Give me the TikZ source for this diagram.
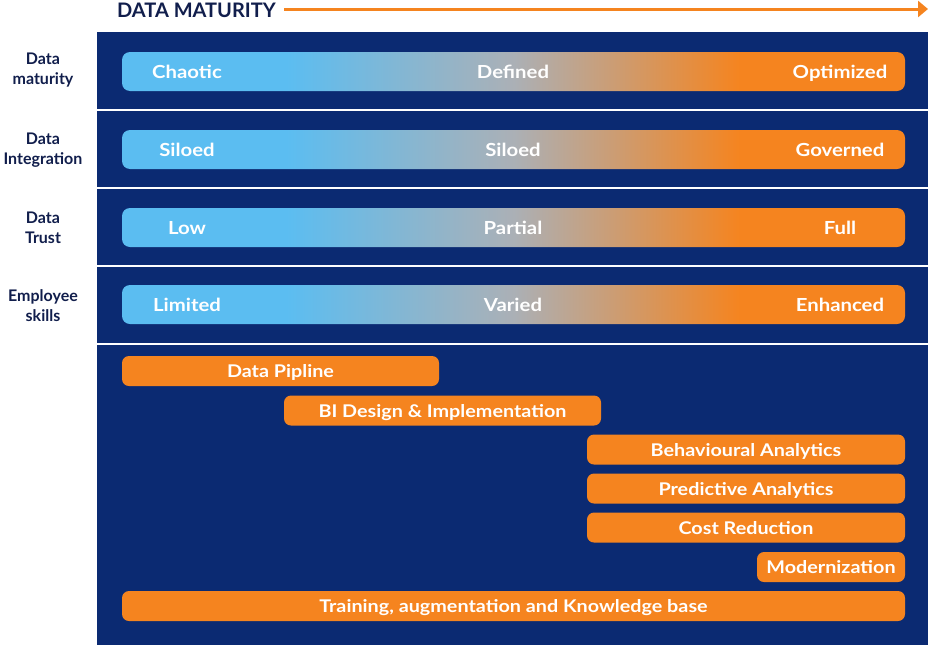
\documentclass[tikz,border=0pt]{standalone}
\usepackage{fontspec}
\setmainfont{Lato}
\newfontfamily\barfont[FakeStretch=1.13]{Lato}
\usetikzlibrary{arrows.meta}
\definecolor{panel}{HTML}{0B2A72}
\definecolor{orng}{HTML}{F5841F}
\definecolor{lblue}{HTML}{5BBDF1}
\definecolor{midgrey}{HTML}{ABB0B6}
\definecolor{navytext}{HTML}{111E4C}
\pgfdeclarehorizontalshading{matgrad}{100bp}{color(0bp)=(lblue); color(35.5bp)=(lblue); color(50bp)=(midgrey); color(64.5bp)=(orng); color(100bp)=(orng)}
\tikzset{
  gbar/.style={shading=matgrad, rounded corners=8pt, minimum width=783pt, minimum height=39pt, inner sep=0pt},
  obar/.style={fill=orng, rounded corners=7pt, minimum height=30pt, inner sep=0pt, text=white, text height=13pt, text depth=0pt, font=\barfont\bfseries\fontsize{17.5}{20}\selectfont},
  gtxt/.style={text=white, text height=13pt, text depth=0pt, font=\barfont\bfseries\fontsize{18}{21}\selectfont, inner sep=0pt},
  rowlbl/.style={text=navytext, align=center, font=\bfseries\fontsize{16}{20}\selectfont, inner sep=0pt},
  sep/.style={draw=white, line width=1.8pt}
}
\begin{document}
\begin{tikzpicture}[x=1pt,y=-1pt]
\useasboundingbox (0,0) rectangle (928,645);
\fill[white] (0,0) rectangle (928,645);
% title and arrow
\node[anchor=west, text=navytext, font=\bfseries\fontsize{20}{24}\selectfont, inner sep=0pt] (title) at (117,10) {DATA MATURITY};
\coordinate (arrS) at (284,9);
\coordinate (arrE) at (928,9);
\draw[orng, line width=3pt, -{Triangle[length=10pt,width=16pt]}] (arrS) -- (arrE);
% panel
\fill[panel] (97,32) rectangle (928,645);
\foreach \yy in {110,188,266,344} \draw[sep] (97,\yy) -- (928,\yy);
% gradient bars
\node[gbar] (g1) at (513.5,71.5) {};
\node[gbar] (g2) at (513.5,149.5) {};
\node[gbar] (g3) at (513.5,227.5) {};
\node[gbar] (g4) at (513.5,304.5) {};
% gradient bar texts
\node[gtxt] (t11) at (187,71.5) {Chaotic};
\node[gtxt] (t12) at (513,71.5) {Defined};
\node[gtxt] (t13) at (840,71.5) {Optimized};
\node[gtxt] (t21) at (187,149.5) {Siloed};
\node[gtxt] (t22) at (513,149.5) {Siloed};
\node[gtxt] (t23) at (840,149.5) {Governed};
\node[gtxt] (t31) at (187,227.5) {Low};
\node[gtxt] (t32) at (513,227.5) {Partial};
\node[gtxt] (t33) at (840,227.5) {Full};
\node[gtxt] (t41) at (187,304.5) {Limited};
\node[gtxt] (t42) at (513,304.5) {Varied};
\node[gtxt] (t43) at (840,304.5) {Enhanced};
% row labels
\node[rowlbl] (l1) at (43,70) {Data\\maturity};
\node[rowlbl] (l2) at (43,150) {Data\\Integration};
\node[rowlbl] (l3) at (43,228) {Data\\Trust};
\node[rowlbl] (l4) at (43,306) {Employee\\skills};
% orange bars
\node[obar, minimum width=317pt] (b1) at (280.5,371) {Data Pipline};
\node[obar, minimum width=317pt] (b2) at (442.5,410.5) {BI Design \& Implementation};
\node[obar, minimum width=318pt] (b3) at (746,449.5) {Behavioural Analytics};
\node[obar, minimum width=318pt] (b4) at (746,488.5) {Predictive Analytics};
\node[obar, minimum width=318pt] (b5) at (746,527.5) {Cost Reduction};
\node[obar, minimum width=148pt] (b6) at (831,567) {Modernization};
\node[obar, minimum width=783pt] (b7) at (513.5,606) {Training, augmentation and Knowledge base};
\end{tikzpicture}
\end{document}
